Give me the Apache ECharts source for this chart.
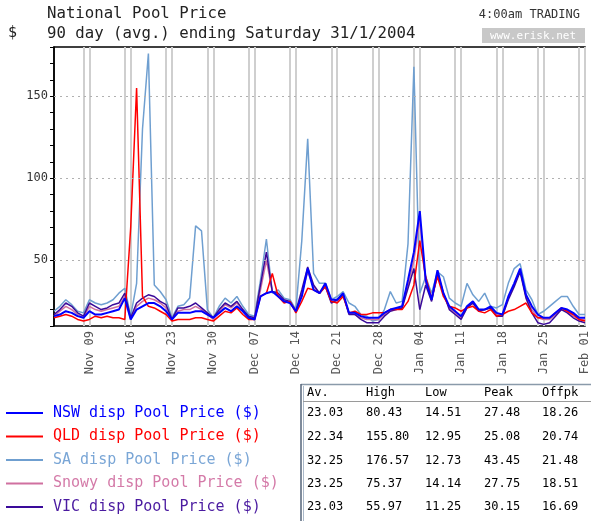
<!DOCTYPE html>
<html>
<head>
<meta charset="utf-8">
<script src="https://cdn.jsdelivr.net/npm/echarts@6/dist/echarts.min.js"></script>
<style>
html, body { margin: 0; padding: 0; background: #fff; }
#chart { width: 591px; height: 521px; }
</style>
</head>
<body>
<div id="chart"></div>
<script>
// daily values, 3 Nov 2003 .. 1 Feb 2004
const nswPrice = [16, 17, 19, 18, 16, 15, 19, 17, 17, 18,
  19, 20, 27, 14, 20, 22, 24, 24, 22, 19,
  14, 18, 18, 18, 19, 19, 17, 15, 18, 21,
  19, 22, 19, 15, 14, 28, 30, 31, 28, 25,
  24, 19, 28, 45, 32, 30, 36, 26, 26, 30,
  18, 18, 16, 15, 15, 15, 18, 20, 21, 22,
  38, 55, 80, 38, 26, 44, 30, 22, 19, 16,
  22, 25, 20, 20, 22, 18, 17, 28, 36, 45,
  29, 22, 17, 15, 15, 18, 21, 20, 18, 15,
  15]
const qldPrice = [15, 16, 17, 16, 14, 13, 14, 16, 15, 16,
  15, 15, 14, 70, 155, 28, 22, 21, 19, 17,
  13, 14, 14, 14, 15, 15, 14, 13, 16, 19,
  18, 21, 17, 14, 14, 28, 30, 42, 28, 24,
  25, 18, 25, 33, 32, 30, 34, 25, 24, 28,
  18, 19, 17, 17, 18, 18, 18, 20, 20, 20,
  25, 35, 62, 40, 27, 40, 28, 22, 21, 19,
  21, 22, 19, 18, 20, 16, 17, 19, 20, 22,
  24, 18, 15, 15, 15, 18, 21, 19, 17, 14,
  13]
const saPrice = [19, 22, 26, 23, 19, 18, 26, 24, 23, 24,
  26, 30, 33, 16, 36, 130, 176, 35, 31, 26,
  15, 22, 23, 27, 71, 68, 20, 15, 22, 27,
  24, 28, 22, 17, 16, 38, 63, 30, 32, 27,
  26, 20, 62, 124, 42, 36, 36, 26, 28, 31,
  24, 22, 17, 16, 13, 14, 20, 31, 24, 25,
  60, 168, 30, 40, 30, 43, 40, 27, 24, 22,
  36, 29, 25, 30, 22, 21, 23, 36, 45, 48,
  32, 26, 17, 19, 22, 25, 28, 28, 22, 17,
  17]
const snowyPrice = [16, 19, 22, 20, 17, 15, 22, 20, 19, 20,
  21, 22, 28, 14, 22, 25, 27, 26, 24, 21,
  14, 19, 20, 20, 22, 20, 17, 14, 19, 23,
  21, 24, 20, 15, 14, 32, 50, 31, 29, 25,
  24, 19, 30, 43, 34, 30, 35, 25, 25, 29,
  18, 17, 15, 14, 14, 14, 17, 20, 20, 21,
  35, 50, 75, 36, 26, 43, 30, 21, 18, 15,
  21, 24, 19, 20, 21, 17, 16, 27, 35, 44,
  28, 20, 15, 14, 14, 17, 20, 19, 16, 14,
  14]
const vicPrice = [17, 20, 24, 22, 18, 16, 24, 22, 20, 21,
  23, 24, 30, 15, 24, 27, 29, 28, 25, 23,
  14, 21, 21, 22, 24, 21, 18, 15, 20, 24,
  22, 25, 20, 16, 15, 35, 55, 31, 30, 26,
  25, 19, 32, 46, 35, 30, 34, 24, 26, 29,
  17, 17, 14, 12, 12, 12, 16, 19, 20, 21,
  33, 45, 20, 35, 25, 42, 30, 20, 17, 14,
  21, 24, 19, 20, 21, 16, 16, 26, 34, 43,
  27, 18, 12, 11, 12, 16, 20, 18, 15, 13,
  12]

const yLabels = [50, 100, 150]
const seriesNames = ['NSW disp Pool Price ($)', 'QLD disp Pool Price ($)', 'SA disp Pool Price ($)',
  'Snowy disp Pool Price ($)', 'VIC disp Pool Price ($)']

const statHeaders = ['Av.', 'High', 'Low', 'Peak', 'Offpk']
const statAvg = [23.03, 22.34, 32.25, 23.25, 23.03]
const statHigh = [80.43, 155.80, 176.57, 75.37, 55.97]
const statLow = [14.51, 12.95, 12.73, 14.14, 11.25]
const statPeak = [27.48, 25.08, 43.45, 27.75, 30.15]
const statOffpk = [18.26, 20.74, 21.48, 18.51, 16.69]

const monthNames = ['Jan', 'Feb', 'Mar', 'Apr', 'May', 'Jun', 'Jul', 'Aug', 'Sep', 'Oct', 'Nov', 'Dec']
const days = []
const weekday = []
for (let i = 0; i < nswPrice.length; i++) {
  const d = new Date(2003, 10, 3 + i)
  days.push(monthNames[d.getMonth()] + ' ' + String(d.getDate()).padStart(2, '0'))
  weekday.push(d.getDay())
}

const mono = '"DejaVu Sans Mono", monospace'
const lineColors = ['#0000ff', '#ff0000', '#6f9fd0', '#d070a0', '#3a0a9a']
const textColors = ['#0000ff', '#ff0000', '#7aa6d6', '#d47aa8', '#4a1aa0']

const chart = echarts.init(document.getElementById('chart'))

// stats table
const colX = [307, 366, 425, 484, 542]
const rowY = [413, 437, 461, 484, 507]
const tableTexts = []
statHeaders.forEach((h, c) => {
  tableTexts.push({ type: 'text', style: { text: h, x: colX[c], y: 393, font: '12px ' + mono, fill: '#000', textVerticalAlign: 'middle' } })
})
const statCols = [statAvg, statHigh, statLow, statPeak, statOffpk]
statCols.forEach((col, c) => {
  col.forEach((v, r) => {
    tableTexts.push({ type: 'text', style: { text: v.toFixed(2), x: colX[c], y: rowY[r], font: '12px ' + mono, fill: '#000', textVerticalAlign: 'middle' } })
  })
})

const seriesData = [nswPrice, qldPrice, saPrice, snowyPrice, vicPrice]
const drawOrder = [2, 3, 4, 1, 0]

chart.setOption({
  animation: false,
  backgroundColor: '#fff',
  grid: { left: 54, top: 47, width: 535, height: 279, show: true, borderColor: '#000', borderWidth: 1.5 },
  xAxis: {
    type: 'category',
    data: days,
    boundaryGap: false,
    axisLine: { show: false },
    axisTick: { show: false },
    axisLabel: {
      interval: (i) => weekday[i] === 0,
      rotate: 90,
      color: '#555',
      fontFamily: mono,
      fontSize: 12,
      margin: 5
    },
    splitLine: {
      show: true,
      interval: (i) => weekday[i] === 0 || weekday[i] === 6,
      lineStyle: { color: '#cfcfcf', width: 2 }
    }
  },
  yAxis: {
    type: 'value',
    min: 10,
    max: 180,
    interval: 10,
    axisLine: { show: true, lineStyle: { color: '#000', width: 1.5 } },
    axisTick: { show: true, length: 4, lineStyle: { color: '#000' } },
    axisLabel: {
      formatter: (v) => (yLabels.includes(v) ? String(v) : ''),
      color: '#333',
      fontFamily: mono,
      fontSize: 12,
      margin: 6
    },
    splitLine: { show: false }
  },
  legend: {
    orient: 'vertical',
    left: 6,
    top: 405,
    padding: 0,
    icon: 'rect',
    itemWidth: 37,
    itemHeight: 2,
    itemGap: 7.5,
    selectedMode: false,
    textStyle: { fontFamily: mono, fontSize: 15, lineHeight: 16, padding: [0, 0, 0, 5] },
    data: seriesNames.map((n, i) => ({ name: n, textStyle: { color: textColors[i] } }))
  },
  series: drawOrder.map((i) => ({
    name: seriesNames[i],
    type: 'line',
    data: seriesData[i],
    symbol: 'none',
    color: lineColors[i],
    lineStyle: { width: i === 0 ? 2 : 1.5, color: lineColors[i] },
    z: 2,
    markLine: i === 2 ? {
      silent: true,
      symbol: ['none', 'none'],
      label: { show: false },
      lineStyle: { color: '#b0b0b0', type: [2, 4], width: 1 },
      data: yLabels.map((v) => ({ yAxis: v }))
    } : undefined
  })),
  graphic: [
    { type: 'text', style: { text: 'National Pool Price', x: 47, y: 14, font: '15.7px ' + mono, fill: '#222', textVerticalAlign: 'middle' } },
    { type: 'text', style: { text: '90 day (avg.) ending Saturday 31/1/2004', x: 47, y: 34, font: '15.7px ' + mono, fill: '#222', textVerticalAlign: 'middle' } },
    { type: 'text', style: { text: '$', x: 8, y: 33, font: '15px ' + mono, fill: '#222', textVerticalAlign: 'middle' } },
    { type: 'text', style: { text: '4:00am TRADING', x: 580, y: 15, font: '12px ' + mono, fill: '#333', textAlign: 'right', textVerticalAlign: 'middle' } },
    { type: 'rect', shape: { x: 482, y: 28, width: 103, height: 15 }, style: { fill: '#c8c8c8' } },
    { type: 'text', style: { text: 'www.erisk.net', x: 533, y: 36, font: '11px ' + mono, fill: '#fff', textAlign: 'center', textVerticalAlign: 'middle' } },
    { type: 'line', shape: { x1: 301, y1: 384.5, x2: 591, y2: 384.5 }, style: { stroke: '#8a9aaa', lineWidth: 1.5 } },
    { type: 'line', shape: { x1: 301, y1: 384, x2: 301, y2: 521 }, style: { stroke: '#55657a', lineWidth: 1.5 } },
    { type: 'line', shape: { x1: 303.5, y1: 386, x2: 303.5, y2: 521 }, style: { stroke: '#aab8c8', lineWidth: 1 } },
    { type: 'line', shape: { x1: 303, y1: 401.5, x2: 591, y2: 401.5 }, style: { stroke: '#9a9a9a', lineWidth: 1 } }
  ].concat(tableTexts)
})
</script>
</body>
</html>
